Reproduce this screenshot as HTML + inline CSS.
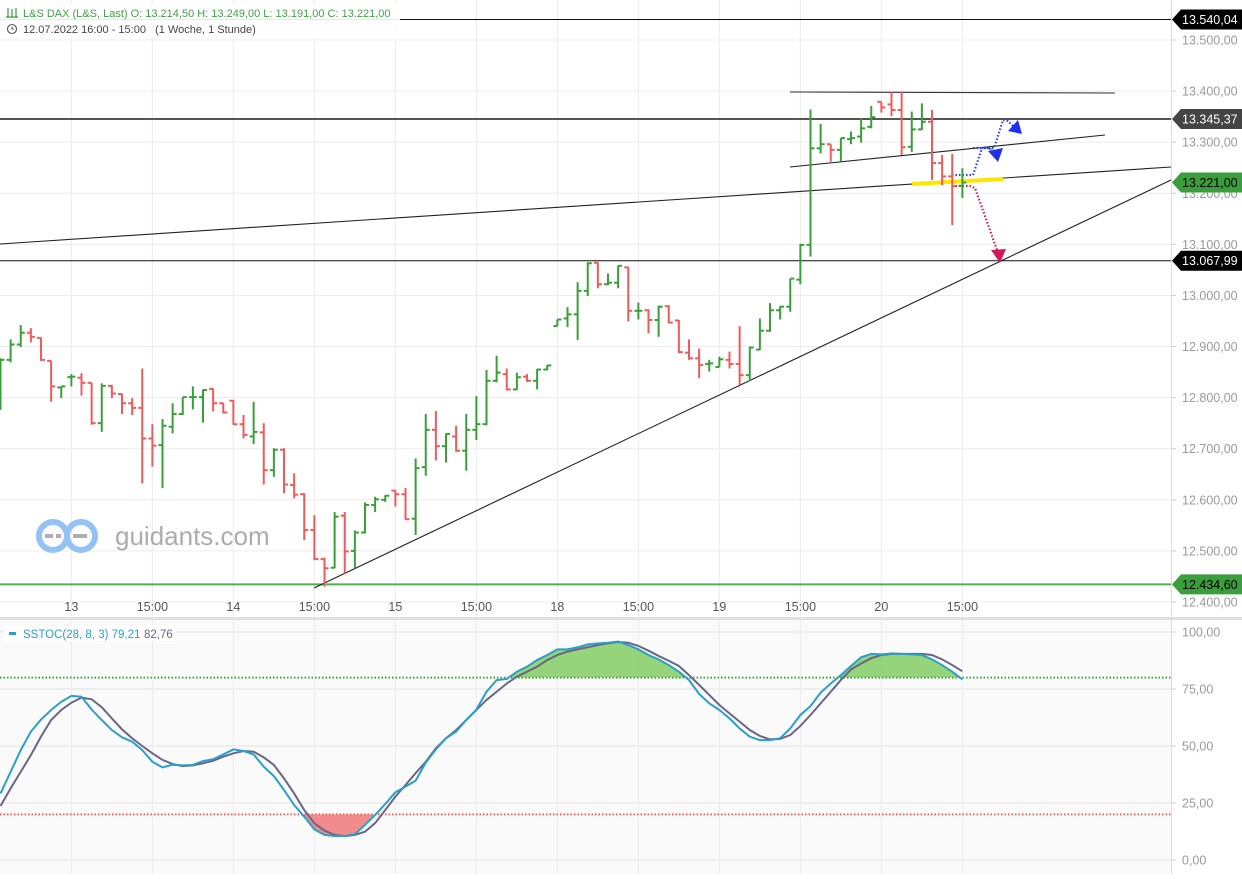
<!DOCTYPE html>
<html><head><meta charset="utf-8">
<style>
html,body{margin:0;padding:0;background:#fff;}
body{width:1242px;height:874px;overflow:hidden;font-family:"Liberation Sans",sans-serif;}
svg text{font-family:"Liberation Sans",sans-serif;}
</style></head>
<body>
<svg id="chart" width="1242" height="874" viewBox="0 0 1242 874" xmlns="http://www.w3.org/2000/svg">
  <rect x="0" y="0" width="1242" height="874" fill="#fff"/>
  <rect x="0" y="620" width="1171" height="254" fill="#fafafa"/>
  <g id="grid"></g>
  <g id="drawings"></g>
  <g id="bars"></g>
  <g id="stoch"></g>
  <g id="axes"></g>
  <!-- watermark -->
  <g opacity="0.95">
    <circle cx="53" cy="536" r="14" fill="none" stroke="#8fbff5" stroke-width="6"/>
    <circle cx="81" cy="536" r="14" fill="none" stroke="#8fbff5" stroke-width="6"/>
    <rect x="45" y="534" width="8" height="4" fill="#aaa"/>
    <rect x="56" y="534" width="5" height="4" fill="#aaa"/>
    <rect x="73" y="534" width="14" height="4" fill="#aaa"/>
    <text x="115" y="545" font-size="26" fill="#a8a8a8">guidants.com</text>
  </g>
  <!-- header -->
  <g>
    <rect x="0" y="4" width="400" height="34" fill="#fff" opacity="0.9"/>
    <g stroke="#3a9e3a" stroke-width="1.2">
      <line x1="8" y1="8" x2="8" y2="18"/><line x1="12" y1="9" x2="12" y2="18"/><line x1="16" y1="8" x2="16" y2="18"/>
      <line x1="6" y1="17" x2="18" y2="17"/>
    </g>
    <text x="23" y="17" font-size="11" fill="#43a047">L&amp;S DAX (L&amp;S, Last)  O: 13.214,50  H: 13.249,00  L: 13.191,00  C: 13.221,00</text>
    <circle cx="12" cy="29" r="4.5" fill="none" stroke="#555" stroke-width="1.1"/>
    <path d="M12 26.5 V29 H14" fill="none" stroke="#555" stroke-width="1"/>
    <text x="23" y="33" font-size="11" fill="#444">12.07.2022 16:00 - 15:00 &#160; (1 Woche, 1 Stunde)</text>
  </g>
  <g>
    <rect x="4" y="625" width="172" height="16" fill="#fff"/>
    <rect x="9" y="632" width="7" height="3" fill="#2aa0c8"/>
    <text x="23" y="638" font-size="11.5" fill="#2aa0c8">SSTOC(28, 8, 3)  79,21</text>
    <text x="144" y="638" font-size="11.5" fill="#6b6585">82,76</text>
  </g>
</svg>
<script>
// ---- data ----
const opens  = [12800,12874,12904,12927,12917,12872,12820,12840,12839,12829,12750,12823,12807,12789,12780,12720,12707,12743,12768,12801,12801,12817,12789,12794,12748,12724,12732,12658,12698,12629,12611,12541,12484,12467,12569,12500,12536,12590,12600,12618,12611,12563,12664,12737,12705,12724,12696,12737,12748,12833,12846,12816,12841,12833,12855,12940,12955,12963,13009,13064,13022,13025,13055,12970,12971,12952,12979,12951,12888,12877,12866,12860,12874,12866,12844,12894,12931,12971,12978,13031,13099,13288,13296,13285,13306,13311,13330,13379,13374,13363,13291,13325,13340,13259,13233,13214.5];
const highs  = [12877,12914,12942,12936,12918,12872,12822,12846,12848,12829,12828,12825,12808,12799,12857,12748,12758,12789,12801,12822,12816,12818,12790,12795,12766,12792,12750,12701,12701,12652,12613,12570,12487,12576,12576,12540,12595,12606,12609,12619,12623,12681,12768,12774,12730,12745,12768,12803,12854,12882,12857,12849,12846,12856,12864,12953,12977,13026,13065,13065,13043,13058,13056,12986,12973,12980,12981,12952,12914,12896,12874,12880,12890,12940,12900,12955,12985,12979,13033,13101,13364,13336,13296,13308,13321,13347,13371,13379,13399,13399,13360,13376,13363,13275,13277,13249];
const lows   = [12776,12869,12899,12908,12872,12792,12799,12822,12804,12747,12733,12799,12768,12766,12632,12665,12623,12730,12766,12777,12751,12773,12769,12747,12720,12709,12630,12645,12613,12603,12521,12482,12430,12466,12456,12466,12534,12576,12596,12587,12561,12531,12647,12677,12673,12694,12657,12717,12746,12830,12814,12815,12831,12816,12854,12940,12938,12913,12999,13014,13020,13014,12949,12953,12926,12919,12945,12887,12874,12838,12851,12860,12857,12825,12833,12893,12929,12953,12968,13022,13076,13278,13262,13262,13296,13299,13327,13358,13351,13275,13281,13324,13226,13216,13138,13191];
const closes = [12874,12904,12927,12919,12874,12822,12822,12841,12829,12750,12823,12808,12789,12780,12720,12706,12745,12768,12801,12801,12815,12789,12771,12748,12727,12733,12658,12698,12630,12610,12541,12484,12466,12567,12499,12536,12590,12601,12608,12611,12562,12662,12737,12705,12729,12696,12737,12748,12833,12849,12816,12840,12833,12855,12863,12953,12963,13009,13063,13022,13025,13058,12970,12970,12952,12978,12947,12889,12877,12864,12867,12875,12866,12844,12898,12931,12971,12978,13033,13099,13288,13296,13285,13308,13308,13327,13349,13368,13363,13290,13325,13340,13259,13233,13214,13221];
const stochK = [29.2,38.7,48.2,56.3,61.6,65.8,69.4,72,71.6,66,61.4,57,53.8,51.9,48.2,43.1,40.6,41.8,41.5,41.7,43.4,44.2,46.3,48.5,47.8,46.3,40.9,36.8,30.7,24.1,19,13.4,11,10.5,10.5,11.3,15.4,19.7,24.6,29.7,32.2,34.8,42.7,48.5,53.4,56.3,61.4,66,73.8,78.9,79.4,82.6,84.8,87.7,89.9,92.4,92.4,93.3,94.6,95,95.3,95.8,94.3,92.4,89.9,88,85.5,82.6,78.9,72.8,68.7,65.8,62.1,57.7,54.1,52.6,52.6,53.4,57.7,63.6,67.5,73.4,77.4,81.1,85.1,88.9,90.4,90.2,90.6,90.4,90.2,89.9,88,85.5,82.6,79.21];
const stochD = [23.7,31.4,38.7,46,54.1,61.4,65.8,69,71.2,70.5,67,62.1,57.3,53.4,50,46.8,43.9,42.1,41.2,41.5,42.4,43.5,45.3,46.8,47.8,47.5,45,41.7,35.8,29.2,21.9,16.1,12.9,11,10.5,11,12.4,16.2,21.9,27.8,32.9,38.1,43.1,49,53.4,57,61.4,65.8,70.2,73.8,77.4,80.4,82.6,84.8,87.7,89.9,91.4,92.4,93.3,94.3,95,95.6,95.3,93.9,91.8,89.5,87.4,85.1,81.1,76.8,72.4,68,64.3,60.7,57,54.4,52.9,53.1,54.8,58.8,63.6,68.7,73.8,78.9,83.6,86.2,88.5,89.9,90.4,90.4,90.4,90.4,89.9,88,85.5,82.76];
const priceTicks = [12400,12500,12600,12700,12800,12900,13000,13100,13200,13300,13400,13500];
const stochTicks = [0,25,50,75,100];
const timeTickIdx = [7,15,23,31,39,47,55,63,71,79,87,95];
const timeTickLabels = ["13","15:00","14","15:00","15","15:00","18","15:00","19","15:00","20","15:00"];
const hLevels = [13540.04,13345.37,13067.99,12434.60];
const hLevelLabels = ["13.540,04","13.345,37","13.067,99","12.434,60"];
const lastClose = 13221.00;

// ---- scales ----
const PLOT_W = 1171;
const py = p => 40 + (13500 - p) * 0.5109;
const sy = v => 860 - v * 2.28;
const bx = i => 0.5 + i * 10.125;
const NS = "http://www.w3.org/2000/svg";
function mk(parent, tag, attrs){const e=document.createElementNS(NS,tag);for(const k in attrs)e.setAttribute(k,attrs[k]);parent.appendChild(e);return e;}
const fmt = v => v.toFixed(2).replace('.',',').replace(/\B(?=(\d{3})+(?!\d))/g,'.');

const grid = document.getElementById('grid');
const axes = document.getElementById('axes');
priceTicks.forEach(t=>{
  const g=mk(grid,'line',{x1:0,x2:PLOT_W,y1:py(t),y2:py(t),stroke:'#ececec','stroke-width':1});
  
  
  const tk=mk(axes,'line',{x1:1171,x2:1176,y1:py(t),y2:py(t),stroke:'#ccc'});
  
  
  const tx=mk(axes,'text',{x:1182,y:py(t)+4.5,'font-size':12.5,fill:'#9a9a9a'});
  tx.textContent=fmt(t);
  
  
});
stochTicks.forEach(t=>{
  const g=mk(grid,'line',{x1:0,x2:PLOT_W,y1:sy(t),y2:sy(t),stroke:'#e2e2e2'});
  
  
  const tk=mk(axes,'line',{x1:1171,x2:1176,y1:sy(t),y2:sy(t),stroke:'#ccc'});
  
  
  const tx=mk(axes,'text',{x:1182,y:sy(t)+4.5,'font-size':12.5,fill:'#9a9a9a'});
  tx.textContent=fmt(t);
  
  
});
timeTickIdx.forEach((idx,k)=>{
  const x=bx(idx);
  const g=mk(grid,'line',{x1:x,x2:x,y1:0,y2:874,stroke:'#ececec'});
  
  
  const tx=mk(axes,'text',{x:x,y:611,'font-size':12.5,fill:'#555','text-anchor':'middle'});
  tx.textContent=timeTickLabels[k];
  
  
});
const sep=mk(axes,'line',{x1:1171.5,x2:1171.5,y1:0,y2:874,stroke:'#ddd'});


const ps=mk(axes,'rect',{x:0,y:617,width:1242,height:3,fill:'#e0e0e0'});



// ---- drawings ----
const dr=document.getElementById('drawings');
const levelColors=['#111','#555','#111','#4caf50'];
const levelWidths=[1,2,1,2];
const levelNames=['level-13540','level-13345','level-13068','level-12435'];
hLevels.forEach((v,k)=>{
  const l=mk(dr,'line',{x1:0,x2:PLOT_W,y1:py(v),y2:py(v),stroke:levelColors[k],'stroke-width':levelWidths[k]});
  
  
});
function tl(name,x1,y1,x2,y2,col,w){
  const l=mk(dr,'line',{x1,y1,x2,y2,stroke:col,'stroke-width':w});
  
  
  return l;
}
tl('long-trendline',0,244,1171,167,'#222',1.1);
tl('channel-top',790,92,1115,93,'#333',1.1);
tl('channel-bottom',790,167,1105,135,'#222',1.1);
tl('rising-support-trendline',314,588,1171,180,'#222',1.1);
tl('breakout-marker',912,184,1003,179,'#ffe600',4);
function dotted(name,pts,col){
  const p=mk(dr,'polyline',{points:pts,fill:'none',stroke:col,'stroke-width':2.2,'stroke-dasharray':'1.5 2'});
  
  
}
dotted('bull-scenario-path','952,175 973,175 982,148 994,148 1003,120 1008,121 1014,127','#2b3cf0');
dotted('bull-pullback-path','973,148 990,148 993,153','#2b3cf0');
dotted('bear-scenario-path','952,186 970,186 975,188 997,250','#d0185a');
function arrow(name,pts,col){
  const p=mk(dr,'polygon',{points:pts,fill:col});
  
  
}
arrow('bull-arrowhead','1022,134 1008,131 1018,120','#1f2ff0');
arrow('pullback-arrowhead','998,162 988,151 1003,148','#1f2ff0');
arrow('bear-arrowhead','1000,263 991,250 1006,249','#d0185a');

// ---- bars ----
const bg=document.getElementById('bars');
for(let i=0;i<closes.length;i++){
  const up=closes[i]>=opens[i];
  const col=up?'#3a9e3a':'#ef5b5b';
  const x=bx(i);
  const g=mk(bg,'g',{stroke:col,'stroke-width':2});
  
  
  mk(g,'line',{x1:x,x2:x,y1:py(highs[i]),y2:py(lows[i])});
  mk(g,'line',{x1:x-4,x2:x,y1:py(opens[i]),y2:py(opens[i])});
  mk(g,'line',{x1:x,x2:x+4,y1:py(closes[i]),y2:py(closes[i])});
}

// ---- stochastic ----
const st=document.getElementById('stoch');
const defs=mk(st,'defs',{});
const c1=mk(defs,'clipPath',{id:'above80'});mk(c1,'rect',{x:0,y:0,width:PLOT_W,height:sy(80)});
const c2=mk(defs,'clipPath',{id:'below20'});mk(c2,'rect',{x:0,y:sy(20),width:PLOT_W,height:300});
const kpts=stochK.map((v,i)=>bx(i)+','+sy(v));
const x0=bx(0), xn=bx(stochK.length-1);
const fg=mk(st,'polygon',{points:x0+','+sy(80)+' '+kpts.join(' ')+' '+xn+','+sy(80),fill:'#7ccb5a','fill-opacity':0.8,'clip-path':'url(#above80)'});


const fr=mk(st,'polygon',{points:x0+','+sy(20)+' '+kpts.join(' ')+' '+xn+','+sy(20),fill:'#f07070','fill-opacity':0.8,'clip-path':'url(#below20)'});


const l80=mk(st,'line',{x1:0,x2:PLOT_W,y1:sy(80),y2:sy(80),stroke:'#3aa83a','stroke-width':2,'stroke-dasharray':'1.5 2'});


const l20=mk(st,'line',{x1:0,x2:PLOT_W,y1:sy(20),y2:sy(20),stroke:'#f06060','stroke-width':2,'stroke-dasharray':'1.5 2'});


const dl=mk(st,'polyline',{points:stochD.map((v,i)=>bx(i)+','+sy(v)).join(' '),fill:'none',stroke:'#6b6585','stroke-width':2});


const kl=mk(st,'polyline',{points:kpts.join(' '),fill:'none',stroke:'#2aa0c8','stroke-width':2});



// ---- price tags ----
function tag(name,v,label,bgc,fgc){
  const y=py(v);
  const g=mk(axes,'g',{});
  
  
  mk(g,'polygon',{points:`1172,${y} 1181,${y-10} 1242,${y-10} 1242,${y+10} 1181,${y+10}`,fill:bgc});
  const t=mk(g,'text',{x:1182,y:y+4.5,'font-size':12.5,fill:fgc});
  t.textContent=label;
}
tag('tag-13540',hLevels[0],hLevelLabels[0],'#000','#fff');
tag('tag-13345',hLevels[1],hLevelLabels[1],'#444','#fff');
tag('tag-last-price',lastClose,fmt(lastClose),'#3a9e3a','#000');
tag('tag-13068',hLevels[2],hLevelLabels[2],'#000','#fff');
tag('tag-12435',hLevels[3],hLevelLabels[3],'#3a9e3a','#000');
</script>
</body></html>
